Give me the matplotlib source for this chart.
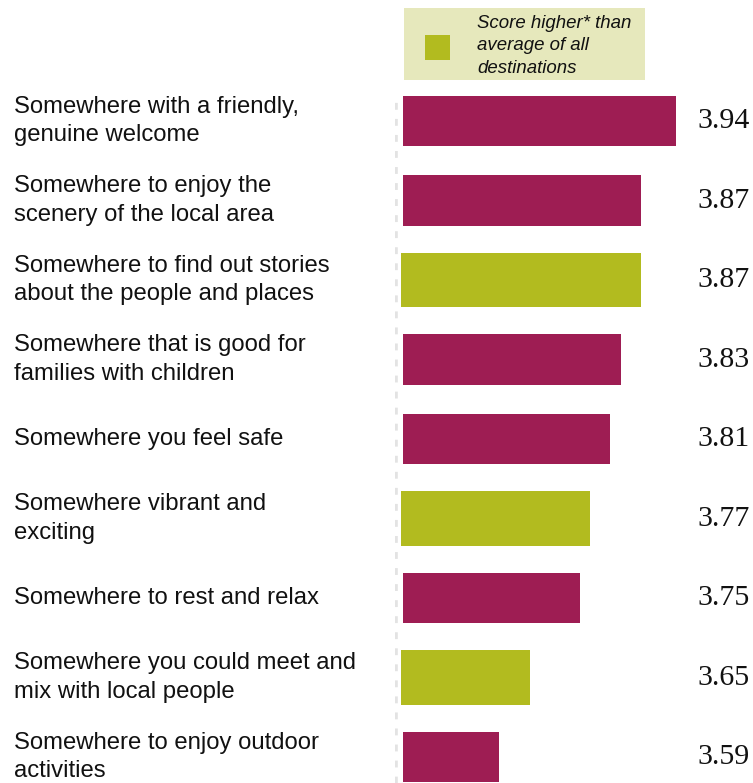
import matplotlib
matplotlib.use('Agg')
import matplotlib.pyplot as plt
from matplotlib.patches import Rectangle
from matplotlib.transforms import blended_transform_factory

labels = [
    'Somewhere with a friendly,\ngenuine welcome',
    'Somewhere to enjoy the\nscenery of the local area',
    'Somewhere to find out stories\nabout the people and places',
    'Somewhere that is good for\nfamilies with children',
    'Somewhere you feel safe',
    'Somewhere vibrant and\nexciting',
    'Somewhere to rest and relax',
    'Somewhere you could meet and\nmix with local people',
    'Somewhere to enjoy outdoor\nactivities',
]
scores = [3.94, 3.87, 3.87, 3.83, 3.81, 3.77, 3.75, 3.65, 3.59]
higher = [False, False, True, False, False, True, False, True, False]

MAGENTA = '#9e1d53'
GREEN = '#b2bb1f'
base = 3.4

fig = plt.figure(figsize=(7.53, 7.83), dpi=100)
ax = fig.add_axes([395 / 753, 0, 358 / 753, 1])
ax.set_xlim(3.384, 4.0917)
ax.set_ylim(8.327, -1.522)
ax.axis('off')

label_tr = blended_transform_factory(fig.transFigure, ax.transData)

for i, (lab, v, h) in enumerate(zip(labels, scores, higher)):
    color = GREEN if h else MAGENTA
    height = 0.68 if h else 0.63
    left = base - 0.004 if h else base
    ax.barh(i, v - left, left=left, height=height, color=color)
    ax.text(697 / 753, i, f'{v:.2f}', transform=label_tr, va='center', ha='left',
            fontsize=21.5, family='Liberation Serif', color='#111111')
    ax.text(14 / 753, i, lab, transform=label_tr,
            va='center', ha='left', fontsize=17.2, family='Liberation Sans',
            linespacing=1.39, color='#111111')

# dotted baseline
ax.axvline(3.384, ymin=0, ymax=0.872, color='#e3e3e3', lw=3.3,
           linestyle=(0, (1.5, 2.0)))

# legend box
fig.patches.append(Rectangle((404 / 753, 1 - 80 / 783), 241 / 753, 72 / 783,
                             transform=fig.transFigure, facecolor='#e6e8bc',
                             edgecolor='none'))
fig.patches.append(Rectangle((425 / 753, 1 - 60 / 783), 25 / 753, 25 / 783,
                             transform=fig.transFigure, facecolor=GREEN,
                             edgecolor='none'))
fig.text(477 / 753, 1 - 46 / 783, 'Score higher* than\naverage of all\ndestinations',
         va='center', ha='left', fontsize=13.4, style='italic',
         family='Liberation Sans', linespacing=1.46, color='#111111')

fig.savefig('out.png', dpi=100)
